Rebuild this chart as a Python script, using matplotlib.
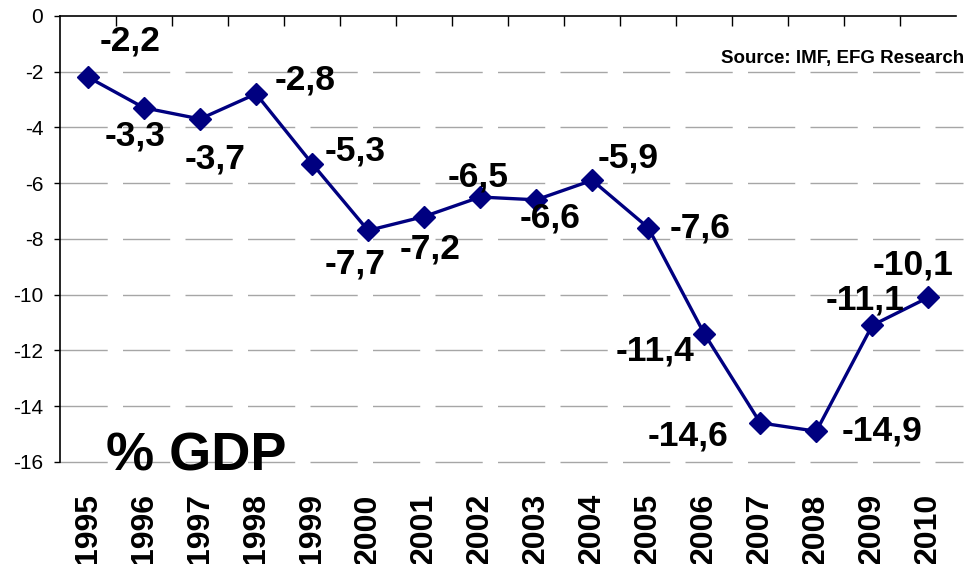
import matplotlib
matplotlib.use("Agg")
import numpy as np
from matplotlib import pyplot as plt

# budget balance, % of GDP
years = ['1995', '1996', '1997', '1998', '1999', '2000', '2001', '2002',
         '2003', '2004', '2005', '2006', '2007', '2008', '2009', '2010']
balance = [-2.2, -3.3, -3.7, -2.8, -5.3, -7.7, -7.2, -6.5,
           -6.6, -5.9, -7.6, -11.4, -14.6, -14.9, -11.1, -10.1]
yticks = [0, -2, -4, -6, -8, -10, -12, -14, -16]

# label offsets in pixels (dx, dy), dy up
offsets = [(42, 36), (-9, -28), (15, -40), (49, 14), (43, 13), (-13, -34),
           (6, -32), (-2, 20), (14, -18), (36, 22), (52, 0), (-49, -17),
           (-72, -13), (66, 0), (-7, 25), (-15, 32)]

plt.rcParams['font.family'] = ['Liberation Sans', 'DejaVu Sans']

fig = plt.figure(figsize=(9.67, 5.64), dpi=100)
ax = fig.add_axes([0.062, 0.181, 0.927, 0.791])

x = np.arange(len(years))
ax.plot(x, balance, color='#000080', lw=2.4, marker='D', ms=11,
        zorder=3, clip_on=False)

for xi, v, (dx, dy) in zip(x, balance, offsets):
    ax.annotate(('%.1f' % v).replace('.', ','), (xi, v),
                xytext=(dx, dy), textcoords='offset pixels',
                ha='center', va='center', fontsize=25.5, fontweight='bold')

ax.set_xlim(-0.5, len(years) - 0.5)
ax.set_ylim(-16, 0)
ax.set_yticks(yticks)
ax.set_yticklabels([str(t) for t in yticks], fontsize=15)
ax.set_xticks(x)
ax.set_xticklabels(years, rotation=90, fontsize=23, fontweight='bold')
ax.set_xticks(np.arange(0.5, len(years) - 1, 1), minor=True)
ax.tick_params(axis='x', which='major', bottom=False, top=False, pad=19)
ax.tick_params(axis='x', which='minor', bottom=False, top=True,
               direction='in', length=7, width=1, color='black')
ax.tick_params(axis='y', length=4, width=1, pad=8)

for t in yticks[1:]:
    ax.axhline(t, xmax=1.007, color='#a6a6a6', lw=1, ls=(0, (34, 11)),
               zorder=1, clip_on=False)

for s in ['right', 'bottom']:
    ax.spines[s].set_visible(False)
ax.spines['top'].set_linewidth(1.2)
ax.spines['left'].set_linewidth(1.2)

ax.text(1.009, 0.905, 'Source: IMF, EFG Research', transform=ax.transAxes,
        ha='right', va='center', fontsize=13.5, fontweight='bold')
ax.text(0.051, 0.012, '% GDP', transform=ax.transAxes,
        ha='left', va='center', fontsize=39, fontweight='bold', zorder=4)

fig.savefig('out.png', dpi=100)
